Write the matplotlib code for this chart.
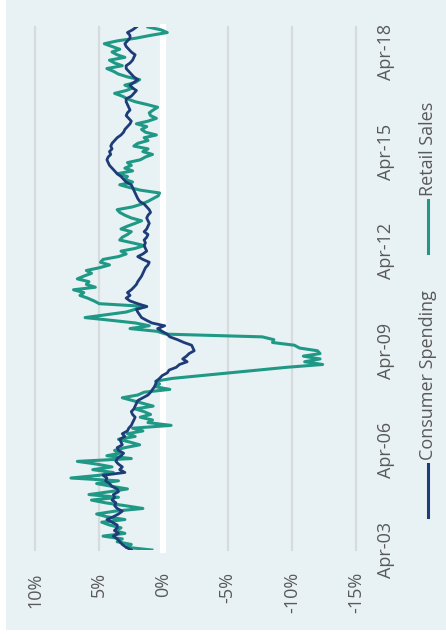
import pandas as pd
import matplotlib
matplotlib.use("Agg")
import matplotlib.pyplot as plt
from matplotlib.lines import Line2D
from matplotlib.patches import Rectangle

# Monthly year-over-year growth, %
months = pd.date_range("2003-04-01", periods=190, freq="MS")

consumer_spending = [
    2.5, 2.9, 3.2, 3.4, 3.6, 3.9, 3.5, 3.8, 3.6, 3.6,
    4.0, 4.4, 3.9, 3.5, 3.2, 3.6, 3.8, 3.7, 4.0, 3.8,
    3.9, 3.5, 3.6, 4.0, 4.2, 4.5, 4.4, 4.7, 3.0, 3.4,
    3.2, 3.5, 3.7, 3.6, 3.3, 3.1, 3.5, 3.6, 3.2, 3.3,
    3.4, 3.0, 3.2, 2.8, 2.7, 2.5, 2.4, 2.3, 2.2, 2.4,
    2.5, 2.3, 2.2, 2.1, 2.0, 1.6, 1.2, 1.0, 0.85, 0.7,
    0.6, 0.55, 0.3, 0.1, -0.3, -0.45, -1.0, -1.25, -1.85, -1.5,
    -1.8, -2.0, -2.4, -2.3, -2.2, -1.6, -1.1, -0.5, -0.3, 0.1,
    0.45, -0.1, 0.9, 1.3, 1.7, 1.85, 2.0, 2.1, 1.3, 2.0,
    2.6, 2.9, 2.6, 2.8, 2.5, 2.3, 2.1, 2.0, 1.85, 1.7,
    1.6, 1.5, 1.4, 1.2, 1.1, 1.6, 2.0, 1.6, 1.3, 1.4,
    1.5, 1.4, 1.5, 1.3, 1.2, 1.5, 1.3, 1.2, 1.1, 1.2,
    1.3, 1.2, 1.0, 1.1, 1.3, 1.5, 1.85, 2.0, 2.1, 2.2,
    2.3, 2.4, 2.5, 2.9, 3.1, 3.3, 3.6, 3.8, 4.0, 4.2,
    4.3, 4.4, 4.3, 4.1, 4.2, 4.0, 4.1, 4.0, 3.8, 3.6,
    3.3, 3.1, 3.0, 2.8, 2.6, 2.5, 2.7, 2.9, 2.8, 2.6,
    2.7, 2.8, 2.9, 2.9, 2.5, 2.3, 2.1, 2.4, 2.6, 2.3,
    2.0, 2.3, 2.5, 2.7, 2.9, 2.9, 2.6, 2.4, 2.3, 2.2,
    2.5, 2.7, 2.9, 3.0, 2.8, 2.6, 2.6, 2.8, 2.4, 2.1,
]

retail_sales = [
    0.9, 2.9, 2.5, 3.6, 3.2, 4.7, 3.0, 3.8, 3.3, 4.2,
    4.8, 3.0, 4.4, 5.2, 3.8, 1.6, 3.0, 4.5, 5.6, 3.5,
    5.8, 4.2, 2.8, 4.0, 5.2, 3.5, 7.2, 5.0, 3.9, 5.5,
    4.0, 5.2, 6.7, 2.5, 4.4, 3.4, 3.8, 3.0, 1.85, 2.6,
    3.5, 2.2, 2.8, 1.6, 2.4, -0.6, 1.2, 0.85, 1.8, 1.0,
    1.5, 2.2, 0.8, 1.6, 2.4, 3.2, 2.0, 1.5, -0.5, 0.6,
    0.3, 0.6, -0.7, -2.9, -5.2, -7.4, -9.6, -12.4, -11.0, -12.2,
    -10.9, -12.2, -12.0, -10.6, -10.2, -8.5, -8.6, -7.7, -0.2, 0.5,
    2.6, 1.1, 2.2, 4.0, 6.1, 4.5, 2.9, 2.2, 1.3, 5.0,
    5.4, 5.9, 6.5, 6.2, 7.0, 5.3, 6.0, 5.8, 6.7, 6.2,
    5.6, 6.0, 5.0, 4.2, 4.9, 4.7, 3.5, 2.9, 3.3, 2.2,
    1.5, 2.4, 3.4, 3.2, 2.8, 2.5, 3.3, 2.8, 2.2, 1.7,
    2.5, 3.0, 3.4, 3.6, 2.4, 1.7, 1.2, 0.8, 0.4, 0.3,
    1.8, 2.6, 3.4, 2.4, 3.0, 2.8, 3.6, 2.4, 3.0, 2.5,
    2.8, 1.8, 1.4, 0.85, 1.6, 1.2, 2.3, 2.0, 1.2, 1.5,
    0.55, 1.4, 1.7, 1.3, 2.1, 1.2, 0.55, 1.0, 1.1, 0.8,
    0.45, 1.3, 2.2, 2.8, 3.2, 3.8, 2.9, 2.4, 3.0, 2.2,
    1.85, 2.8, 3.5, 3.9, 4.4, 3.2, 3.8, 4.2, 3.0, 3.6,
    4.0, 3.4, 4.0, 4.6, 3.6, 2.1, 1.0, -0.3, 0.2, 1.2,
]

pct_ticks = [10, 5, 0, -5, -10, -15]
pct_labels = ["10%", "5%", "0%", "-5%", "-10%", "-15%"]
date_ticks = pd.to_datetime(["2003-04-01", "2006-04-01", "2009-04-01",
                             "2012-04-01", "2015-04-01", "2018-04-01"])
date_labels = ["Apr-03", "Apr-06", "Apr-09", "Apr-12", "Apr-15", "Apr-18"]
series_names = ["Consumer Spending", "Retail Sales"]

BG = "#e8f1f4"
NAVY = "#1d3c78"
TEAL = "#1f9985"
GRID = "#d6dbde"
TEXT = "#595959"
FONT = "Open Sans"
FS = 13.0

W, H = 446, 634
fig = plt.figure(figsize=(W / 100, H / 100), dpi=100)
fig.patch.set_facecolor("white")
fig.add_artist(Rectangle((6 / W, 4 / H), 440 / W, 630 / H, transform=fig.transFigure,
                         facecolor=BG, edgecolor="none", zorder=-10))

# Chart is laid out sideways: value runs across, time runs up the page
ax = fig.add_axes([35 / W, (H - 550) / H, 321 / W, 523 / H])
ax.set_facecolor("none")
for s in ax.spines.values():
    s.set_visible(False)

for t in pct_ticks:
    if t == 0:
        ax.axvline(t, color="white", lw=4.5, zorder=1, clip_on=False)
    else:
        ax.axvline(t, color=GRID, lw=1.6, zorder=1, clip_on=False)

ax.plot(retail_sales, months, color=TEAL, lw=2.2, zorder=3, solid_joinstyle="round")
ax.plot(consumer_spending, months, color=NAVY, lw=2.0, zorder=4, solid_joinstyle="round")

ax.set_xlim(10, -15)
ax.set_ylim(months[0], months[-1])

ax.set_xticks(pct_ticks)
ax.set_xticklabels(pct_labels, rotation=90, va="top", ha="center",
                   fontsize=FS, color=TEXT, family=FONT)
ax.tick_params(axis="x", length=0, pad=16)

ax.yaxis.tick_right()
ax.set_yticks(date_ticks)
ax.set_yticklabels(date_labels, rotation=90, va="center", ha="left",
                   fontsize=FS, color=TEXT, family=FONT)
ax.tick_params(axis="y", length=0, pad=15)

# Legend drawn sideways alongside the date labels
lx = 428 / W
legend_items = [(series_names[0], NAVY, 517, 464, 460),
                (series_names[1], TEAL, 253, 200, 196)]
for name, color, y0, y1, ytext in legend_items:
    fig.add_artist(Line2D([lx, lx], [(H - y0) / H, (H - y1) / H],
                          transform=fig.transFigure, color=color, lw=2.2))
    fig.text(lx, (H - ytext) / H, name, rotation=90, ha="center", va="bottom",
             fontsize=FS, color=TEXT, family=FONT)

fig.savefig("out.png", dpi=100, facecolor=fig.get_facecolor())
